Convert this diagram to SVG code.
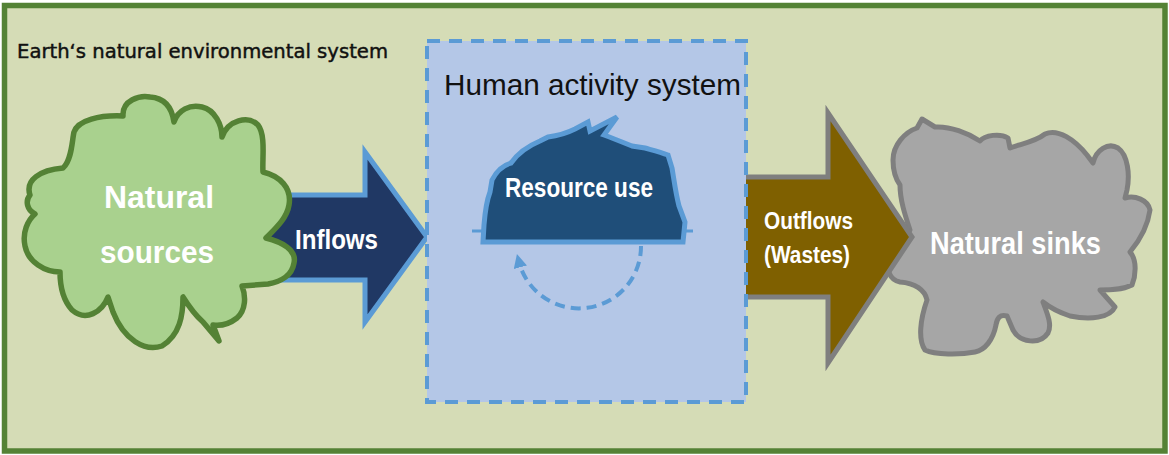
<svg xmlns="http://www.w3.org/2000/svg" width="1169" height="455" viewBox="0 0 1169 455">
  <style>
    .lbl { font-family: "Liberation Sans", Arial, sans-serif; font-weight: bold; fill: #ffffff; }
    .title { font-family: "Liberation Sans", Arial, sans-serif; fill: #111111; }
    .caption { font-family: "DejaVu Sans", "Liberation Sans", sans-serif; fill: #111111; stroke: #111111; stroke-width: 0.45; }
  </style>
  <defs>
    <marker id="loopHead" viewBox="0 0 10 10" refX="4" refY="5" markerWidth="3.4" markerHeight="3.4" orient="auto" markerUnits="strokeWidth">
      <path d="M0 0 L10 5 L0 10 Z" fill="#5b9bd5"/>
    </marker>
  </defs>

  <!-- outer environment frame -->
  <g id="environment">
    <rect x="4.5" y="5.5" width="1160.5" height="445.5" fill="#d5dcb6" stroke="#548235" stroke-width="5.5"/>
    <text class="caption" x="17" y="58" font-size="19" textLength="371" lengthAdjust="spacingAndGlyphs">Earth‘s natural environmental system</text>
  </g>

  <!-- flows -->
  <g id="connectors">
    <g id="inflows">
      <path d="M250 195 L365 195 L365 152 L427 237 L365 322 L365 280 L250 280 Z" fill="#203864" stroke="#5b9bd5" stroke-width="5" stroke-linejoin="miter"/>
    </g>
  </g>

  <!-- natural sources cloud -->
  <g id="natural-sources">
    <path d="M30 195 C25 180 40 170 63 168 C72 160 72 140 74 132 C78 120 100 115 123 116 C122 100 140 95 150 97 C165 98 172 108 174 122 C178 110 190 104 202 107 C215 110 222 125 222 137 C228 120 248 115 258 125 C266 135 262 160 263 172 C280 176 292 188 289 205 C287 218 276 228 266 238 C282 242 297 250 294 263 C292 276 280 282 268 284 L242 286 C246 296 246 310 237 318 C228 325 220 326 213 325 L219 341 L203 322 C195 315 188 305 183 297 C183 315 180 335 162 346 C145 352 124 340 113 312 L108 297 C102 312 86 322 72 310 C63 300 60 286 60 272 C45 272 28 262 25 246 C22 232 28 220 35 214 C27 210 25 201 30 195 Z" fill="#a9d18e" stroke="#548235" stroke-width="5.5" stroke-linejoin="round"/>
    <text class="lbl" x="159" y="208" font-size="32" text-anchor="middle" textLength="110" lengthAdjust="spacingAndGlyphs">Natural</text>
    <text class="lbl" x="157" y="263" font-size="32" text-anchor="middle" textLength="114" lengthAdjust="spacingAndGlyphs">sources</text>
  </g>

  <g id="inflows-label">
    <text class="lbl" x="295" y="249" font-size="27" textLength="83" lengthAdjust="spacingAndGlyphs">Inflows</text>
  </g>

  <!-- natural sinks cloud -->
  <g id="natural-sinks">
    <path d="M893 160 C893 145 905 132 917 128 L922 119 L935 127 C950 126 968 133 980 141 C985 135 1000 133 1008 138 L1010 148 C1020 144 1035 142 1045 134 C1058 128 1075 140 1087 155 L1093 163 C1096 150 1108 142 1118 148 C1128 155 1130 175 1127 190 L1125 198 C1135 195 1148 200 1150 210 C1148 225 1140 240 1130 252 C1137 260 1136 275 1132 285 C1122 290 1110 290 1100 290 L1115 307 C1110 318 1090 320 1070 316 C1058 312 1048 306 1043 302 C1048 315 1052 325 1048 333 C1040 345 1020 343 1013 330 L1007 316 C1000 314 997 318 996 325 C993 340 985 350 975 352 C960 355 935 355 925 350 C918 340 920 320 927 300 C925 290 915 283 900 282 C890 280 885 270 890 255 C895 245 905 240 910 230 C905 215 900 200 900 185 C895 178 893 170 893 160 Z" fill="#a6a6a6" stroke="#7f7f7f" stroke-width="5" stroke-linejoin="round"/>
    <text class="lbl" x="930" y="254" font-size="31" textLength="171" lengthAdjust="spacingAndGlyphs">Natural sinks</text>
  </g>

  <g id="connectors-out">
    <g id="outflows">
      <path d="M740 177 L828 177 L828 113 L912 237 L828 363 L828 297 L740 297 Z" fill="#7f6000" stroke="#7f7f7f" stroke-width="5" stroke-linejoin="miter"/>
      <text class="lbl" x="764" y="229" font-size="23" textLength="89" lengthAdjust="spacingAndGlyphs">Outflows</text>
      <text class="lbl" x="764" y="263" font-size="23" textLength="86" lengthAdjust="spacingAndGlyphs">(Wastes)</text>
    </g>
  </g>

  <!-- human activity system boundary -->
  <g id="human-activity-system">
    <rect x="427" y="41" width="319" height="361" fill="#b4c7e7" stroke="#5b9bd5" stroke-width="4" stroke-dasharray="13 9"/>
    <text class="title" x="444" y="95" font-size="29" textLength="297" lengthAdjust="spacingAndGlyphs">Human activity system</text>
  </g>

  <!-- resource use dome with recycling loop -->
  <g id="resource-use">
    <line x1="472" y1="231" x2="693" y2="231" stroke="#5b9bd5" stroke-width="3"/>
    <path d="M483 242 L484 225 C485 212 487 200 490 192 L492 180 C497 170 504 165 511 163 C518 153 528 146 540 141 L548 137 C556 136 565 134 575 129 L588 122 L590 131 L617 117 L604 135 C612 138 622 142 632 146 L645 148 C652 150 660 152 668 155 L672 168 C674 180 676 195 679 206 L685 222 L683 242 Z" fill="#1f4e79" stroke="#5b9bd5" stroke-width="5" stroke-linejoin="miter"/>
    <text class="lbl" x="505" y="197" font-size="28" textLength="148" lengthAdjust="spacingAndGlyphs">Resource use</text>
    <path d="M641 246 A62 62 0 0 1 519 262" fill="none" stroke="#5b9bd5" stroke-width="4" stroke-dasharray="10 6" marker-end="url(#loopHead)"/>
  </g>
</svg>
